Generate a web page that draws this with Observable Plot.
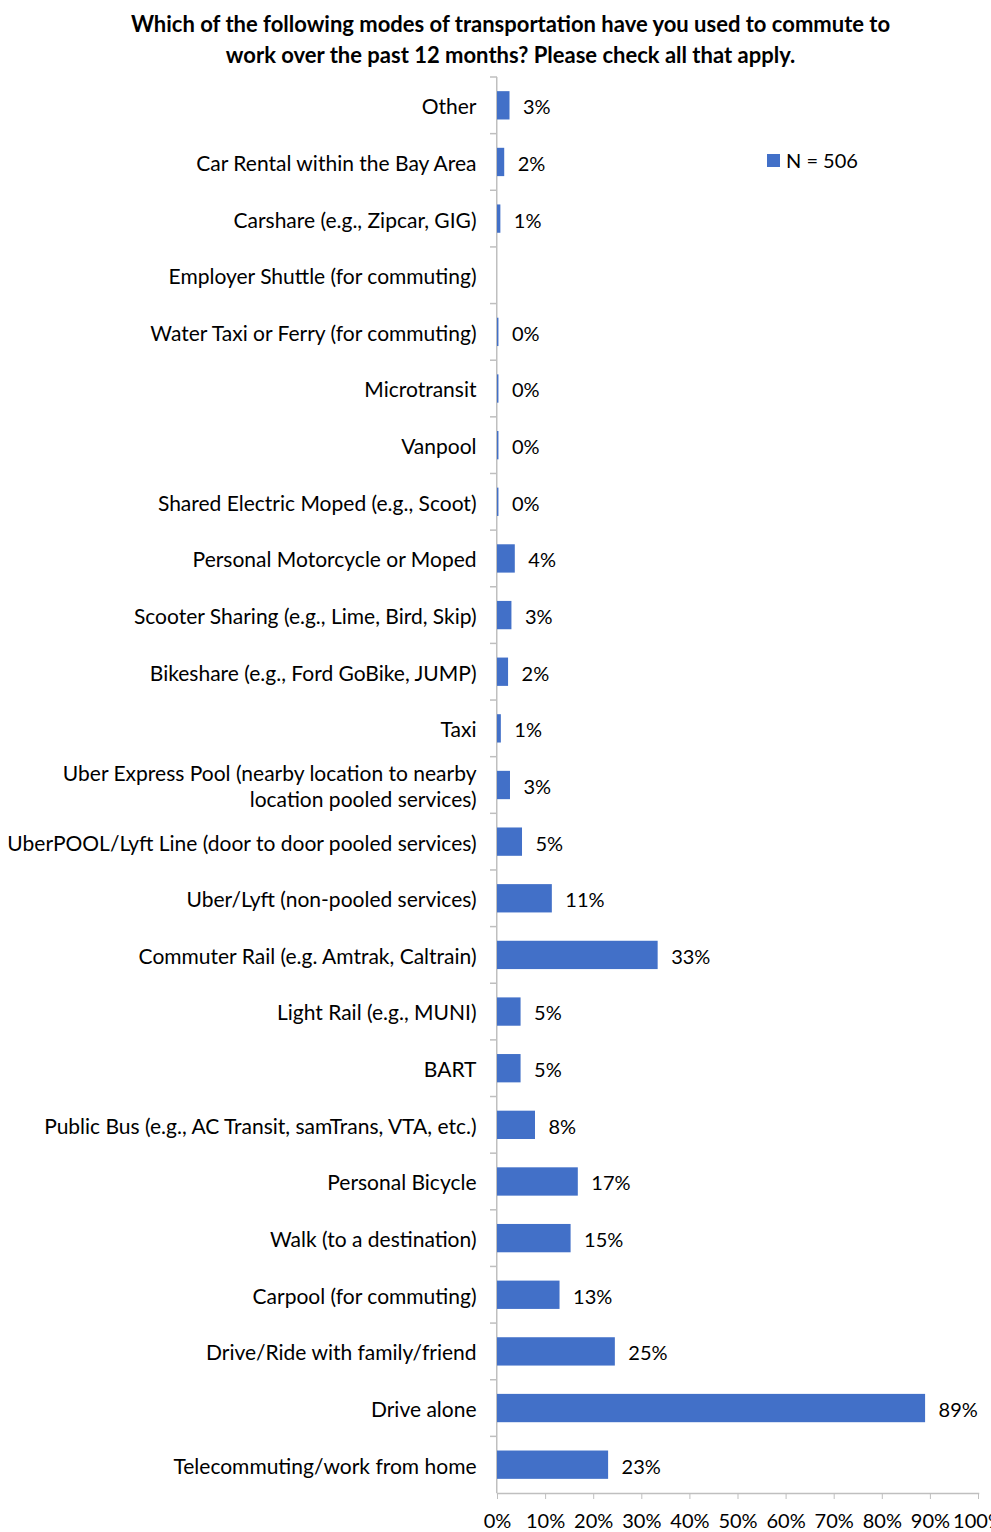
<!DOCTYPE html>
<html>
<head>
<meta charset="utf-8">
<script src="https://cdn.jsdelivr.net/npm/d3@7"></script>
<script src="https://cdn.jsdelivr.net/npm/@observablehq/plot@0.6"></script>
<style>
  html, body { margin: 0; padding: 0; background: #fff; }
  body { width: 991px; height: 1532px; position: relative; overflow: hidden; font-family: Lato, "Open Sans", sans-serif; }
  #title { height: 76px; box-sizing: border-box; padding-top: 8px; padding-left: 30px; text-align: center; font-weight: bold; font-size: 22px; line-height: 31px; color: #000; }
  #legend { position: absolute; left: 767px; top: 148px; font-size: 20px; color: #000; display: flex; align-items: center; }
  #legend .sw { width: 13px; height: 13px; background: #4270c8; margin-right: 6px; }
  #chart svg { display: block; overflow: visible; }
</style>
</head>
<body>
<div id="title">Which of the following modes of transportation have you used to commute to<br>work over the past 12 months? Please check all that apply.</div>
<div id="legend"><div class="sw"></div><span>N = 506</span></div>
<div id="chart"></div>
<script>
const categories = [
  "Other",
  "Car Rental within the Bay Area",
  "Carshare (e.g., Zipcar, GIG)",
  "Employer Shuttle (for commuting)",
  "Water Taxi or Ferry (for commuting)",
  "Microtransit",
  "Vanpool",
  "Shared Electric Moped (e.g., Scoot)",
  "Personal Motorcycle or Moped",
  "Scooter Sharing (e.g., Lime, Bird, Skip)",
  "Bikeshare (e.g., Ford GoBike, JUMP)",
  "Taxi",
  "Uber Express Pool (nearby location to nearby\nlocation pooled services)",
  "UberPOOL/Lyft Line (door to door pooled services)",
  "Uber/Lyft (non-pooled services)",
  "Commuter Rail (e.g. Amtrak, Caltrain)",
  "Light Rail (e.g., MUNI)",
  "BART",
  "Public Bus (e.g., AC Transit, samTrans, VTA, etc.)",
  "Personal Bicycle",
  "Walk (to a destination)",
  "Carpool (for commuting)",
  "Drive/Ride with family/friend",
  "Drive alone",
  "Telecommuting/work from home"
];
const values = [2.6, 1.5, 0.7, null, 0.3, 0.3, 0.3, 0.3, 3.7, 3.0, 2.3, 0.8, 2.7, 5.2, 11.4, 33.4, 4.9, 4.9, 7.9, 16.8, 15.3, 13.0, 24.5, 89.0, 23.1];
const valueLabels = ["3%", "2%", "1%", "", "0%", "0%", "0%", "0%", "4%", "3%", "2%", "1%", "3%", "5%", "11%", "33%", "5%", "5%", "8%", "17%", "15%", "13%", "25%", "89%", "23%"];
const xTicks = [0, 10, 20, 30, 40, 50, 60, 70, 80, 90, 100];
const xTickLabels = ["0%", "10%", "20%", "30%", "40%", "50%", "60%", "70%", "80%", "90%", "100%"];

const rows = categories.map((c, i) => ({category: c, value: values[i], label: valueLabels[i]}));
const barRows = rows.filter(d => d.value != null);

const BLUE = "#4270c8";
const AXIS = "#bfbfbf";

const plot = Plot.plot({
  width: 991,
  height: 1456,
  marginLeft: 497,
  marginRight: 13,
  marginTop: 1,
  marginBottom: 39,
  style: {fontFamily: "Lato, 'Open Sans', sans-serif", fontSize: "20px", color: "#000", background: "#fff"},
  x: {domain: [0, 100], label: null},
  y: {domain: categories, paddingInner: 0.5, paddingOuter: 0.25, round: false, label: null, axis: null},
  marks: [
    Plot.ruleX([0], {stroke: AXIS, strokeWidth: 1.5, dx: -0.75}),
    Plot.frame({anchor: "bottom", stroke: AXIS, strokeWidth: 1.5}),
    Plot.barX(barRows, {y: "category", x: "value", fill: BLUE}),
    Plot.text(barRows, {y: "category", x: "value", text: "label", textAnchor: "start", dx: 13, dy: 2, fontSize: 20, fill: "#000"}),
    Plot.text(rows, {y: "category", frameAnchor: "left", text: "category", textAnchor: "end", dx: -21, lineHeight: 1.25, fontSize: 21, fill: "#000"}),
    Plot.axisX({ticks: xTicks, tickFormat: (d) => xTickLabels[xTicks.indexOf(d)], tickSize: 6, tickPadding: 14, stroke: AXIS, fontSize: 20, fill: "#000", label: null})
  ]
});
document.getElementById("chart").appendChild(plot);

// band boundary tick marks on the y axis (from the library's y scale)
const ys = plot.scale("y");
const xs = plot.scale("x");
const step = ys.step !== undefined ? ys.step : (ys.bandwidth / 0.5);
const x0 = xs.apply(0);
const g = d3.select(plot).append("g").attr("stroke", AXIS).attr("stroke-width", 1.5);
categories.forEach((c) => {
  const top = ys.apply(c) - (step - ys.bandwidth) / 2;
  g.append("line").attr("x1", x0 - 7).attr("x2", x0).attr("y1", top).attr("y2", top);
});
</script>
</body>
</html>
